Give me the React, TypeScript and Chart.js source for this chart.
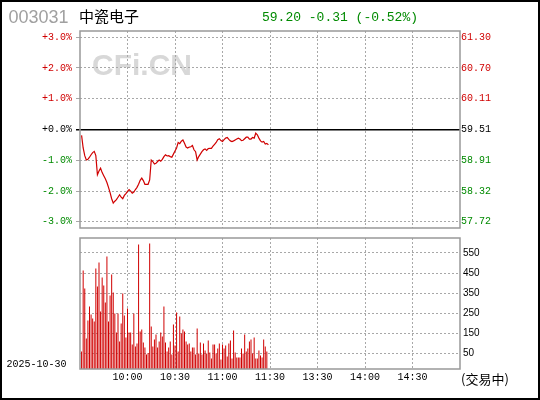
import React, { useEffect, useRef } from 'react';
import { Chart, registerables } from 'chart.js';

Chart.register(...registerables);

// ---------- data ----------
const STOCK_CODE = '003031';
const STOCK_NAME = '中瓷电子';
const QUOTE_TEXT = '59.20 -0.31 (-0.52%)';
const TRADE_DATE = '2025-10-30';
const STATUS_TEXT = '(交易中)';
const PREV_CLOSE = 59.51;

const PCT_TICKS = [-3, -2, -1, 0, 1, 2, 3];
const VOL_TICKS = [50, 150, 250, 350, 450, 550];
const TIME_TICK_MINUTES = [30, 60, 90, 120, 150, 180, 210];
const TIME_TICK_LABELS = ['10:00', '10:30', '11:00', '11:30', '13:30', '14:00', '14:30'];

// percent change vs previous close, one value per minute from 9:31
const PRICE_PCT = [
  -0.19, -0.60, -0.85, -0.99, -0.97, -0.90, -0.82, -0.75, -0.71, -0.85,
  -1.47, -1.35, -1.26, -1.40, -1.50, -1.60, -1.72, -1.88, -2.05, -2.25,
  -2.39, -2.33, -2.28, -2.20, -2.12, -2.20, -2.25, -2.14, -2.08, -2.01,
  -1.95, -2.00, -2.07, -2.03, -1.95, -1.88, -1.78, -1.65, -1.58, -1.66,
  -1.78, -1.78, -1.78, -1.64, -0.99, -1.04, -1.12, -1.10, -1.04, -0.99,
  -1.03, -0.97, -0.88, -0.82, -0.86, -0.85, -0.88, -0.90, -0.80, -0.70,
  -0.60, -0.42, -0.46, -0.38, -0.34, -0.45, -0.57, -0.60, -0.57, -0.56,
  -0.52, -0.66, -0.72, -0.99, -0.88, -0.80, -0.72, -0.66, -0.63, -0.68,
  -0.62, -0.61, -0.61, -0.54, -0.48, -0.42, -0.33, -0.30, -0.36, -0.39,
  -0.33, -0.28, -0.26, -0.32, -0.37, -0.39, -0.37, -0.34, -0.31, -0.28,
  -0.31, -0.36, -0.35, -0.30, -0.25, -0.25, -0.31, -0.31, -0.26, -0.28,
  -0.12, -0.17, -0.28, -0.37, -0.41, -0.39, -0.47, -0.45, -0.50,
];

// volume per minute from 9:31
const VOLUME = [
  57, 463, 373, 123, 213, 282, 242, 223, 208, 472,
  382, 503, 258, 427, 388, 303, 532, 208, 338, 443,
  352, 248, 152, 247, 108, 198, 348, 238, 128, 273,
  152, 152, 93, 248, 82, 98, 593, 157, 168,
  102, 77, 42, 50, 597, 182, 82, 117, 142, 77,
  107, 152, 132, 282, 102, 57, 77, 107, 42, 192,
  87, 252, 57, 232, 147, 167, 157, 107, 92, 97,
  57, 77, 77, 42, 172, 47, 102, 42, 97, 62, 47,
  112, 52, 22, 92, 92, 47, 72, 97, 17, 92,
  72, 87, 32, 97, 112, 22, 162, 52, 27, 27,
  27, 72, 47, 142, 57, 72, 107, 117, 47, 127,
  22, 22, 62, 37, 27, 117, 82, 57,
];

// ---------- styles ----------
const RED = '#d00000';
const GREEN = '#008a00';
const GRID = '#a8a8a8';
const FRAME = '#999999';
const MONO = "'Liberation Mono', 'DejaVu Sans Mono', monospace";
const SANS = "'Liberation Sans', Arial, sans-serif";
const CJK = "'Noto Sans CJK SC', sans-serif";

const zeroPad = (s: any) => {
  s.paddingTop = 0;
  s.paddingBottom = 0;
  s.paddingLeft = 0;
  s.paddingRight = 0;
};

const setTicks = (vals: number[]) => (s: any) => {
  s.ticks = vals.map((v) => ({ value: v }));
};

const tickVal = (c: any) => (c && c.tick ? c.tick.value : null);
const signColor = (c: any) => {
  const v = tickVal(c);
  if (v === null || v === 0) return '#000';
  return v > 0 ? RED : GREEN;
};

const framePlugin = {
  id: 'plotFrame',
  afterDraw(chart: any) {
    const { ctx, chartArea: a } = chart;
    ctx.save();
    ctx.strokeStyle = FRAME;
    ctx.lineWidth = 1.5;
    ctx.strokeRect(a.left, a.top, a.right - a.left, a.bottom - a.top);
    ctx.restore();
  },
};

const priceDecor = {
  id: 'priceDecor',
  beforeDraw(chart: any) {
    const { ctx } = chart;
    ctx.save();
    ctx.font = `bold 30px ${SANS}`;
    ctx.fillStyle = '#d8d8d8';
    ctx.textBaseline = 'alphabetic';
    ctx.fillText('CFi.CN', 92, 75);
    ctx.restore();
  },
  afterDraw(chart: any) {
    const { ctx } = chart;
    ctx.save();
    ctx.textBaseline = 'alphabetic';
    ctx.font = `18px ${SANS}`;
    ctx.fillStyle = '#a0a0a0';
    ctx.fillText(STOCK_CODE, 8.5, 23.4);
    ctx.font = `15px ${CJK}`;
    ctx.fillStyle = '#000';
    ctx.fillText(STOCK_NAME, 79, 22);
    ctx.font = `13px ${MONO}`;
    ctx.fillStyle = GREEN;
    ctx.fillText(QUOTE_TEXT, 262, 20.5);
    ctx.restore();
  },
};

const VOL_TOP = 232;

const volDecor = {
  id: 'volDecor',
  afterDraw(chart: any) {
    const { ctx } = chart;
    ctx.save();
    ctx.textBaseline = 'alphabetic';
    ctx.font = `10px ${MONO}`;
    ctx.fillStyle = '#000';
    ctx.fillText(TRADE_DATE, 6.5, 367 - VOL_TOP);
    ctx.font = `13px ${CJK}`;
    ctx.fillText(STATUS_TEXT, 461, 384 - VOL_TOP);
    ctx.restore();
  },
};

export default function App() {
  const priceRef = useRef<HTMLCanvasElement>(null);
  const volRef = useRef<HTMLCanvasElement>(null);

  useEffect(() => {
    const priceData = PRICE_PCT.map((y, i) => ({ x: i + 1, y }));
    const volData = VOLUME.map((y, i) => ({ x: i + 1, y }));

    const priceChart = new Chart(priceRef.current as HTMLCanvasElement, {
      type: 'line',
      data: {
        datasets: [
          {
            data: priceData,
            borderColor: RED,
            borderWidth: 1.2,
            pointRadius: 0,
            fill: false,
            tension: 0,
            yAxisID: 'y',
          },
        ],
      },
      options: {
        responsive: false,
        animation: false,
        events: [],
        layout: { padding: { top: 31, bottom: 17, left: 0, right: 0 } },
        plugins: { legend: { display: false }, tooltip: { enabled: false } },
        scales: {
          x: {
            type: 'linear',
            min: 0,
            max: 240,
            afterBuildTicks: setTicks(TIME_TICK_MINUTES),
            afterFit: (s: any) => {
              s.height = 0;
              zeroPad(s);
            },
            ticks: { display: false },
            grid: { color: GRID, lineWidth: 1, drawTicks: false },
            border: { display: false, dash: [2, 2] },
          },
          y: {
            position: 'left',
            min: -3.2,
            max: 3.2,
            afterBuildTicks: setTicks(PCT_TICKS),
            afterFit: (s: any) => {
              s.width = 80;
              zeroPad(s);
            },
            ticks: {
              font: { family: MONO, size: 10 },
              color: signColor,
              padding: 4,
              callback: (v: any) => (v >= 0 ? '+' : '') + Number(v).toFixed(1) + '%',
            },
            grid: {
              color: (c: any) => (tickVal(c) === 0 ? '#000' : GRID),
              tickColor: (c: any) => (tickVal(c) === 0 ? '#000' : GRID),
              lineWidth: (c: any) => (tickVal(c) === 0 ? 1.5 : 1),
              drawTicks: true,
              tickLength: 4,
            },
            border: {
              display: false,
              dash: (c: any) => (tickVal(c) === 0 ? [] : [2, 2]),
            },
          },
          y2: {
            position: 'right',
            min: -3.2,
            max: 3.2,
            afterBuildTicks: setTicks(PCT_TICKS),
            afterFit: (s: any) => {
              s.width = 80;
              zeroPad(s);
            },
            ticks: {
              font: { family: MONO, size: 10 },
              color: signColor,
              padding: 1,
              callback: (v: any) => (PREV_CLOSE * (1 + Number(v) / 100)).toFixed(2),
            },
            grid: { drawOnChartArea: false, drawTicks: false },
            border: { display: false },
          },
        },
      },
      plugins: [priceDecor, framePlugin],
    } as any);

    const volChart = new Chart(volRef.current as HTMLCanvasElement, {
      type: 'bar',
      data: {
        datasets: [
          {
            data: volData,
            backgroundColor: RED,
            borderWidth: 0,
            barThickness: 1,
            inflateAmount: 0,
            base: -30,
          },
        ],
      },
      options: {
        responsive: false,
        animation: false,
        events: [],
        layout: { padding: { top: 6, bottom: 11, left: 80, right: 0 } },
        plugins: { legend: { display: false }, tooltip: { enabled: false } },
        scales: {
          x: {
            type: 'linear',
            min: 0,
            max: 240,
            offset: false,
            afterBuildTicks: setTicks(TIME_TICK_MINUTES),
            afterFit: (s: any) => {
              s.height = 20;
              zeroPad(s);
            },
            ticks: {
              font: { family: MONO, size: 10 },
              color: '#000',
              padding: 2,
              maxRotation: 0,
              autoSkip: false,
              callback: (_v: any, i: number) => TIME_TICK_LABELS[i],
            },
            grid: { color: GRID, lineWidth: 1, drawTicks: false, offset: false },
            border: { display: false, dash: [2, 2] },
          },
          y: {
            position: 'right',
            min: -30,
            max: 625,
            afterBuildTicks: setTicks(VOL_TICKS),
            afterFit: (s: any) => {
              s.width = 80;
              zeroPad(s);
            },
            ticks: {
              font: { family: SANS, size: 10 },
              color: '#000',
              padding: 3,
            },
            grid: { color: GRID, lineWidth: 1, drawTicks: false },
            border: { display: false, dash: [2, 2] },
          },
        },
      },
      plugins: [volDecor, framePlugin],
    } as any);

    return () => {
      priceChart.destroy();
      volChart.destroy();
    };
  }, []);

  return (
    <div
      style={{
        position: 'fixed',
        left: 0,
        top: 0,
        width: 540,
        height: 400,
        background: '#fff',
        overflow: 'hidden',
      }}
    >
      <canvas
        ref={priceRef}
        width={540}
        height={245}
        style={{ position: 'absolute', left: 0, top: 0 }}
      />
      <canvas
        ref={volRef}
        width={540}
        height={168}
        style={{ position: 'absolute', left: 0, top: VOL_TOP }}
      />
      <div
        style={{
          position: 'absolute',
          left: 0,
          top: 0,
          width: 540,
          height: 400,
          boxSizing: 'border-box',
          border: '2px solid #000',
          pointerEvents: 'none',
        }}
      />
    </div>
  );
}
